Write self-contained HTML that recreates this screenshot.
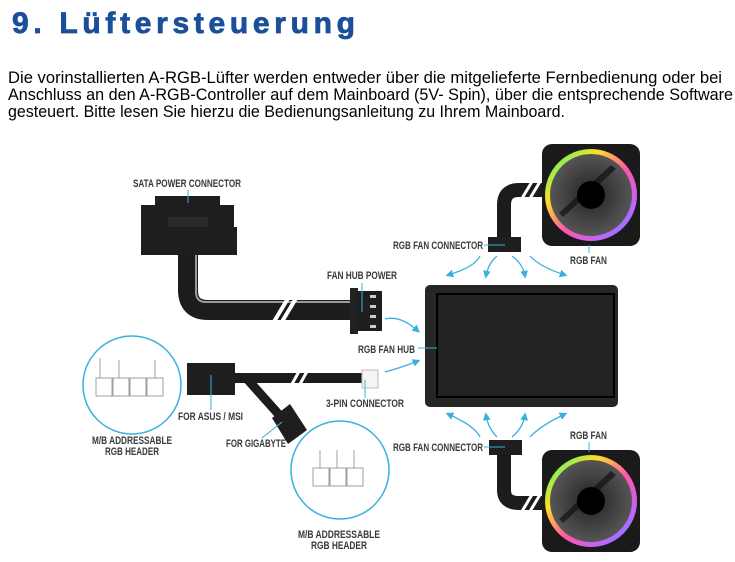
<!DOCTYPE html>
<html><head><meta charset="utf-8"><style>
html,body{margin:0;padding:0;background:#fff;width:735px;height:562px;overflow:hidden}
svg{display:block}
.t{font-family:"Liberation Sans",sans-serif;font-size:16.6px;fill:#000}
.l{font-family:"Liberation Sans Narrow","Liberation Sans",sans-serif;font-size:11px;font-weight:bold;fill:#3a3a3a}
.ar{fill:none;stroke:#3ab0e0;stroke-width:1.3}
</style></head><body>
<svg width="735" height="562" viewBox="0 0 735 562" xmlns="http://www.w3.org/2000/svg">
<defs>
<marker id="m" markerWidth="6" markerHeight="6" refX="4" refY="3" orient="auto"><path d="M0,0 L6,3 L0,6z" fill="#3ab0e0"/></marker>
<linearGradient id="rg" x1="0" y1="0" x2="1" y2="1">
<stop offset="0" stop-color="#2f8"/><stop offset="0.3" stop-color="#fd2"/><stop offset="0.55" stop-color="#f5a"/><stop offset="0.8" stop-color="#b6f"/><stop offset="1" stop-color="#39f"/></linearGradient>
<radialGradient id="fb"><stop offset="0" stop-color="#222"/><stop offset="1" stop-color="#555"/></radialGradient>
<g id="fan">
<rect x="-49" y="-51" width="98" height="102" rx="10" fill="#1a1a1a"/>
<circle r="46" fill="url(#rg)"/>
<circle r="41" fill="url(#fb)"/>
<path d="M-32,18 L20,-30 L25,-26 L-28,22z" fill="#111" opacity=".7"/>
<circle r="14" fill="#000"/>
</g>
</defs>
<text x="12" y="33" textLength="343" lengthAdjust="spacing" style="font-family:'Liberation Sans',sans-serif;font-weight:bold;font-size:30px;fill:#1c4f9a;stroke:#1c4f9a;stroke-width:0.8">9. Lüftersteuerung</text>
<text class="t" x="8" y="83" textLength="714" lengthAdjust="spacingAndGlyphs">Die vorinstallierten A-RGB-Lüfter werden entweder über die mitgelieferte Fernbedienung oder bei</text>
<text class="t" x="8" y="100" textLength="725" lengthAdjust="spacingAndGlyphs">Anschluss an den A-RGB-Controller auf dem Mainboard (5V- Spin), über die entsprechende Software</text>
<text class="t" x="8" y="117" textLength="557" lengthAdjust="spacingAndGlyphs">gesteuert. Bitte lesen Sie hierzu die Bedienungsanleitung zu Ihrem Mainboard.</text>

<path d="M188,255 V290 Q188,310 208,310 H352" fill="none" stroke="#1c1c1c" stroke-width="20"/>
<path d="M196,255 V292 Q196,302 206,302 H352" fill="none" stroke="#9a9a9a" stroke-width="2"/>
<path d="M272,325 L290,295 M280,325 L298,295" stroke="#fff" stroke-width="4"/>
<path d="M141,205 H155 V196 H220 V205 H234 V227 H237 V255 H141z" fill="#1e1e1e"/>
<rect x="168" y="217" width="40" height="10" fill="#2a2a2a"/>
<text class="l" x="133" y="187" textLength="108" lengthAdjust="spacingAndGlyphs">SATA POWER CONNECTOR</text>
<line x1="188" y1="190" x2="188" y2="203" stroke="#3ab0e0"/>
<rect x="350" y="288" width="8" height="46" fill="#222"/>
<rect x="356" y="291" width="26" height="40" fill="#1e1e1e"/>
<g fill="#ccc"><rect x="370" y="295" width="6" height="3"/><rect x="370" y="305" width="6" height="3"/><rect x="370" y="315" width="6" height="3"/><rect x="370" y="325" width="6" height="3"/></g>
<text class="l" x="327" y="279" textLength="70" lengthAdjust="spacingAndGlyphs">FAN HUB POWER</text>
<line x1="362" y1="283" x2="362" y2="312" stroke="#3ab0e0"/>
<path class="ar" d="M385,319 Q400,315 418,331" marker-end="url(#m)"/>
<path class="ar" d="M385,372 Q400,368 418,361" marker-end="url(#m)"/>
<rect x="425" y="285" width="193" height="122" rx="5" fill="#262626"/>
<rect x="437" y="294" width="177" height="103" fill="#222" stroke="#000" stroke-width="2"/>
<text class="l" x="358" y="353" textLength="57" lengthAdjust="spacingAndGlyphs">RGB FAN HUB</text>
<line x1="418" y1="348" x2="437" y2="348" stroke="#3ab0e0"/>
<path d="M504,240 V205 Q504,190 519,190 H555" fill="none" stroke="#1c1c1c" stroke-width="14"/>
<path d="M518,205 L533,180 M526,205 L541,180" stroke="#fff" stroke-width="3"/>
<use href="#fan" x="591" y="195"/>
<rect x="488" y="237" width="33" height="15" fill="#1e1e1e"/>
<text class="l" x="393" y="249" textLength="90" lengthAdjust="spacingAndGlyphs">RGB FAN CONNECTOR</text>
<line x1="484" y1="245" x2="505" y2="245" stroke="#3ab0e0"/>
<text class="l" x="570" y="264" textLength="37" lengthAdjust="spacingAndGlyphs">RGB FAN</text>
<line x1="589" y1="245" x2="589" y2="253" stroke="#3ab0e0"/>
<path class="ar" d="M480,256 Q475,267 448,275" marker-end="url(#m)"/>
<path class="ar" d="M497,256 Q488,264 486,276" marker-end="url(#m)"/>
<path class="ar" d="M512,256 Q523,264 525,276" marker-end="url(#m)"/>
<path class="ar" d="M530,256 Q540,267 565,275" marker-end="url(#m)"/>
<path class="ar" d="M480,437 Q475,426 448,414" marker-end="url(#m)"/>
<path class="ar" d="M497,437 Q488,428 486,415" marker-end="url(#m)"/>
<path class="ar" d="M512,437 Q523,428 525,415" marker-end="url(#m)"/>
<path class="ar" d="M530,437 Q540,426 565,414" marker-end="url(#m)"/>
<path d="M504,452 V490 Q504,503 519,503 H555" fill="none" stroke="#1c1c1c" stroke-width="14"/>
<path d="M518,518 L533,493 M526,518 L541,493" stroke="#fff" stroke-width="3"/>
<use href="#fan" x="591" y="501"/>
<rect x="489" y="440" width="33" height="15" fill="#1e1e1e"/>
<text class="l" x="393" y="451" textLength="90" lengthAdjust="spacingAndGlyphs">RGB FAN CONNECTOR</text>
<line x1="484" y1="447" x2="505" y2="447" stroke="#3ab0e0"/>
<text class="l" x="570" y="439" textLength="37" lengthAdjust="spacingAndGlyphs">RGB FAN</text>
<line x1="589" y1="442" x2="589" y2="452" stroke="#3ab0e0"/>
<path d="M234,378 H364" stroke="#1c1c1c" stroke-width="10"/>
<path d="M248,380 L282,418" stroke="#1c1c1c" stroke-width="9"/>
<path d="M286,395 L302,366 M294,395 L310,366" stroke="#fff" stroke-width="3"/>
<rect x="187" y="363" width="48" height="32" fill="#1e1e1e"/>
<path d="M272,418 L290,404 L307,430 L288,444z" fill="#1e1e1e"/>
<rect x="362" y="370" width="16" height="18" fill="#f4f4f4" stroke="#bbb"/>
<text class="l" x="178" y="420" textLength="65" lengthAdjust="spacingAndGlyphs">FOR ASUS / MSI</text>
<line x1="211" y1="375" x2="211" y2="410" stroke="#3ab0e0"/>
<text class="l" x="226" y="447" textLength="60" lengthAdjust="spacingAndGlyphs">FOR GIGABYTE</text>
<line x1="262" y1="438" x2="282" y2="422" stroke="#3ab0e0"/>
<text class="l" x="326" y="407" textLength="78" lengthAdjust="spacingAndGlyphs">3-PIN CONNECTOR</text>
<line x1="365" y1="380" x2="365" y2="398" stroke="#3ab0e0"/>
<g fill="#fff" stroke="#888" stroke-width="0.8">
<circle cx="132" cy="385" r="49" stroke="#3ab0e0" stroke-width="1.5"/>
<rect x="96" y="378" width="16" height="18"/><rect x="113" y="378" width="16" height="18"/><rect x="130" y="378" width="16" height="18"/><rect x="147" y="378" width="16" height="18"/>
<line x1="100" y1="378" x2="100" y2="358"/><line x1="119" y1="378" x2="119" y2="360"/><line x1="155" y1="378" x2="155" y2="360"/>
<circle cx="340" cy="470" r="49" stroke="#3ab0e0" stroke-width="1.5"/>
<rect x="313" y="468" width="16" height="18"/><rect x="330" y="468" width="16" height="18"/><rect x="347" y="468" width="16" height="18"/>
<line x1="320" y1="468" x2="320" y2="450"/><line x1="337" y1="468" x2="337" y2="450"/><line x1="354" y1="468" x2="354" y2="450"/>
</g>
<text class="l" x="92" y="444" textLength="80" lengthAdjust="spacingAndGlyphs">M/B ADDRESSABLE</text>
<text class="l" x="105" y="455" textLength="54" lengthAdjust="spacingAndGlyphs">RGB HEADER</text>
<text class="l" x="298" y="538" textLength="82" lengthAdjust="spacingAndGlyphs">M/B ADDRESSABLE</text>
<text class="l" x="311" y="549" textLength="56" lengthAdjust="spacingAndGlyphs">RGB HEADER</text>
</svg>
</body></html>
